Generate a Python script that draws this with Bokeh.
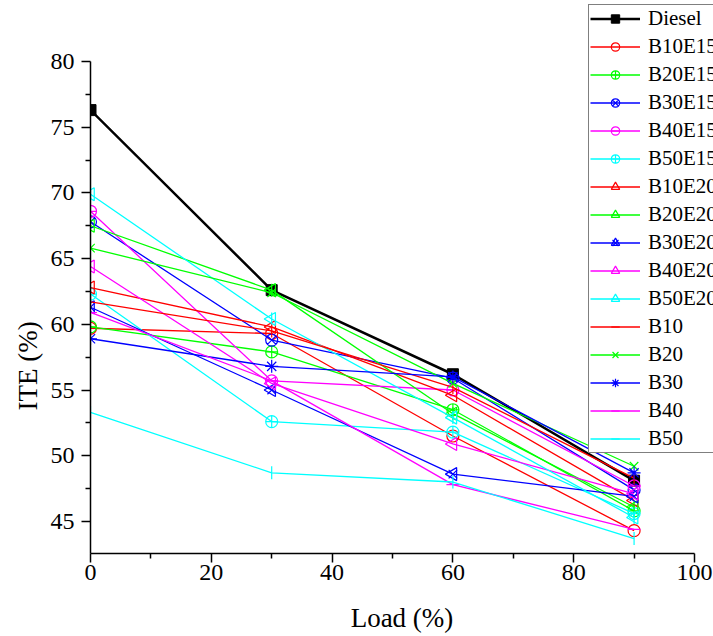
import numpy as np
from bokeh.plotting import figure
from bokeh.models import Range1d, FixedTicker, Legend, LegendItem, Title
from bokeh.embed import file_html
from bokeh.resources import INLINE

load = [0, 30, 60, 90]

diesel = [76.3, 62.6, 56.2, 48.1]
b10e15 = [59.7, 59.3, 51.5, 44.3]
b20e15 = [59.8, 57.9, 53.5, 45.8]
b30e15 = [67.8, 58.8, 55.9, 47.4]
b40e15 = [68.6, 55.7, 55.0, 47.7]
b50e15 = [62.3, 52.6, 51.8, 45.6]
b10e20 = [62.8, 59.8, 54.6, 46.6]
b20e20 = [67.5, 62.6, 53.2, 46.1]
b30e20 = [61.3, 55.0, 48.6, 46.9]
b40e20 = [64.4, 55.5, 50.9, 47.1]
b50e20 = [69.9, 60.4, 52.9, 45.3]
b10 = [61.7, 59.5, 55.2, 48.3]
b20 = [65.8, 62.4, 55.5, 49.2]
b30 = [58.9, 56.8, 56.0, 48.7]
b40 = [60.9, 55.7, 47.8, 44.4]
b50 = [53.3, 48.7, 48.0, 43.7]

x_ticks = [0, 20, 40, 60, 80, 100]
y_ticks = [45, 50, 55, 60, 65, 70, 75, 80]

RED, GREEN, BLUE, MAG, CYAN = "#FF0000", "#00FF00", "#0000FF", "#FF00FF", "#00FFFF"
L = np.pi / 2

# name, values, color, list of (marker, angle)
series = [
    ("Diesel", diesel, "black", [("square", 0)]),
    ("B10E15", b10e15, RED, [("circle", 0)]),
    ("B20E15", b20e15, GREEN, [("circle_cross", 0)]),
    ("B30E15", b30e15, BLUE, [("circle_x", 0)]),
    ("B40E15", b40e15, MAG, [("circle", 0), ("dash", 0)]),
    ("B50E15", b50e15, CYAN, [("circle_cross", 0)]),
    ("B10E20", b10e20, RED, [("triangle", L)]),
    ("B20E20", b20e20, GREEN, [("triangle", L), ("dash", L)]),
    ("B30E20", b30e20, BLUE, [("triangle", L), ("x", 0)]),
    ("B40E20", b40e20, MAG, [("triangle", L)]),
    ("B50E20", b50e20, CYAN, [("triangle", L), ("dash", L)]),
    ("B10", b10, RED, [("dash", L)]),
    ("B20", b20, GREEN, [("x", 0)]),
    ("B30", b30, BLUE, [("asterisk", 0)]),
    ("B40", b40, MAG, [("dash", 0)]),
    ("B50", b50, CYAN, [("dash", L)]),
]

# frame reaches the canvas top/right so the legend can sit there; axes are bounded
Y_MIN, Y_TOP = 42.56, 80
p = figure(width=713, height=636, output_backend="svg", toolbar_location=None,
           x_range=Range1d(0, 103.15), y_range=Range1d(Y_MIN, 84.64),
           min_border_left=90, min_border_right=0, min_border_top=0, min_border_bottom=83)
p.outline_line_color = None
p.xgrid.visible = False
p.ygrid.visible = False
p.background_fill_color = "white"

FONT = "Liberation Serif"
for ax in (p.xaxis[0], p.yaxis[0]):
    ax.axis_line_width = 1.5
    ax.axis_line_color = "black"
    ax.major_tick_line_width = 1.5
    ax.minor_tick_line_width = 1.5
    ax.major_tick_out = 9
    ax.major_tick_in = 0
    ax.minor_tick_out = 5
    ax.minor_tick_in = 0
    ax.major_label_text_font = FONT
    ax.major_label_text_font_size = "24px"
    ax.major_label_text_color = "black"

p.xaxis[0].bounds = (0, 100)
p.yaxis[0].bounds = (Y_MIN, Y_TOP)
p.xaxis[0].ticker = FixedTicker(ticks=x_ticks, minor_ticks=[10, 30, 50, 70, 90])
p.yaxis[0].ticker = FixedTicker(ticks=y_ticks, minor_ticks=[47.5, 52.5, 57.5, 62.5, 67.5, 72.5, 77.5])
p.xaxis[0].axis_label = "Load (%)"
p.xaxis[0].axis_label_text_font = FONT
p.xaxis[0].axis_label_text_font_size = "27px"
p.xaxis[0].axis_label_text_font_style = "normal"
p.xaxis[0].axis_label_text_color = "black"
p.xaxis[0].major_label_standoff = 2
p.xaxis[0].axis_label_standoff = 20
p.yaxis[0].major_label_standoff = 7

ytitle = Title(text="ITE (%)", align="left", offset=143, text_font=FONT,
               text_font_size="27px", text_font_style="normal", text_color="black")
p.add_layout(ytitle, "left")

items = []
for name, vals, color, markers in series:
    lw = 2.5 if name == "Diesel" else 1.3
    rs = [p.line(load, vals, line_color=color, line_width=lw)]
    for m, ang in markers:
        if name == "Diesel":
            r = p.scatter(load, vals, marker=m, size=11, fill_color="black", line_color="black")
        else:
            sz = 13 if m in ("triangle", "dash", "asterisk") else 12
            r = p.scatter(load, vals, marker=m, angle=ang, size=sz, fill_color=None,
                          line_color=color, line_width=1.2)
        rs.append(r)
    items.append(LegendItem(label=name, renderers=rs))

legend = Legend(items=items, location=(498, 100))
legend.border_line_color = "black"
legend.border_line_width = 1
legend.background_fill_color = "white"
legend.background_fill_alpha = 1
legend.label_text_font = FONT
legend.label_text_font_size = "21px"
legend.label_text_color = "black"
legend.glyph_width = 50
legend.glyph_height = 21
legend.label_height = 21
legend.spacing = 3
legend.padding = 1
legend.margin = 0
legend.label_standoff = 8
p.add_layout(legend)

open("out.html", "w").write(file_html(p, INLINE))
